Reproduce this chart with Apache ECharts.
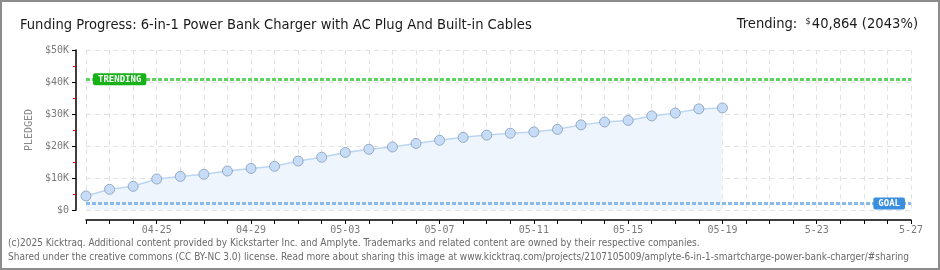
<!DOCTYPE html>
<html>
<head>
<meta charset="utf-8">
<script src="https://cdn.jsdelivr.net/npm/echarts@6/dist/echarts.min.js"></script>
<style>
  html, body { margin: 0; padding: 0; background: #fff; }
  #wrap { position: relative; width: 940px; height: 270px; }
  #chart { position: absolute; left: 0; top: 0; width: 940px; height: 270px; }
  #frame { position: absolute; left: 0; top: 0; width: 940px; height: 270px; box-sizing: border-box; border: 2px solid #8c8c8c; pointer-events: none; }
</style>
</head>
<body>
<div id="wrap">
  <div id="chart"></div>
  <div id="frame"></div>
</div>
<script>
// dates shown on the x axis (one per day)
const days = [
  "04-22", "04-23", "04-24", "04-25", "04-26", "04-27", "04-28", "04-29", "04-30",
  "05-01", "05-02", "05-03", "05-04", "05-05", "05-06", "05-07", "05-08", "05-09",
  "05-10", "05-11", "05-12", "05-13", "05-14", "05-15", "05-16", "05-17", "05-18",
  "05-19", "5-20", "5-21", "5-22", "5-23", "5-24", "5-25", "5-26", "5-27"
];
// pledged total per day ($)
const pledged = [
  4380, 6470, 7400, 9690, 10500, 11160, 12190, 13000, 13660, 15300, 16500, 18000,
  18970, 19700, 20800, 21800, 22700, 23400, 24000, 24400, 25200, 26600, 27500,
  28000, 29400, 30300, 31600, 31900
];
const goal = 2000;
const trending = 40864;
const yTicks = [0, 10000, 20000, 30000, 40000, 50000];

const pixelFont = "DejaVu Sans Mono";
const textFont = "'DejaVu Sans Condensed', 'Liberation Sans', sans-serif";
const chart = echarts.init(document.getElementById("chart"));

chart.setOption({
  animation: false,
  title: [
    {
      text: "Funding Progress: 6-in-1 Power Bank Charger with AC Plug And Built-in Cables",
      left: 15, top: 13,
      textStyle: { fontFamily: textFont, fontSize: 14.6, fontWeight: "normal", color: "#1a1a1a" }
    },
    {
      text: "{a|Trending:  }{s|$}{a|40,864 (2043%)}",
      right: 17, top: 12,
      textStyle: {
        fontWeight: "normal",
        rich: {
          a: { fontFamily: textFont, fontSize: 14.6, fontWeight: "normal", color: "#1a1a1a" },
          s: { fontFamily: textFont, fontSize: 9, fontWeight: "normal", color: "#1a1a1a", verticalAlign: "top", padding: [0, 1, 6, 0] }
        }
      }
    }
  ],
  graphic: [
    {
      type: "text", left: 8, top: 238,
      style: {
        text: "(c)2025 Kicktraq. Additional content provided by Kickstarter Inc. and Amplyte. Trademarks and related content are owned by their respective companies.",
        font: "10px " + textFont, fill: "#6a6a6a"
      }
    },
    {
      type: "text", left: 8, top: 252,
      style: {
        text: "Shared under the creative commons (CC BY-NC 3.0) license. Read more about sharing this image at www.kicktraq.com/projects/2107105009/amplyte-6-in-1-smartcharge-power-bank-charger/#sharing",
        font: "10px " + textFont, fill: "#6a6a6a"
      }
    }
  ],
  grid: { left: 86, right: 29, top: 50, bottom: 60 },
  xAxis: {
    type: "category",
    data: days,
    boundaryGap: false,
    offset: 10,
    axisLine: { onZero: false, lineStyle: { color: "#000", width: 1.5 } },
    axisTick: { interval: 0, length: 4, lineStyle: { color: "#000" } },
    axisLabel: {
      interval: (i) => i % 4 === 3,
      margin: 5,
      fontFamily: pixelFont, fontSize: 10, color: "#7a7a7a"
    },
    splitLine: { show: true, interval: 0, lineStyle: { color: "#e2e2e2", type: [5, 4] } }
  },
  yAxis: {
    type: "value",
    min: yTicks[0], max: yTicks[yTicks.length - 1], interval: 10000,
    offset: 10,
    name: "PLEDGED",
    nameLocation: "middle",
    nameGap: 42,
    nameTextStyle: { fontFamily: pixelFont, fontSize: 10, color: "#888" },
    axisLine: { show: true, onZero: false, lineStyle: { color: "#000", width: 1.5 } },
    axisTick: { show: true, length: 4, lineStyle: { color: "#000" } },
    minorTick: { show: true, splitNumber: 2, length: 3, lineStyle: { color: "#e00000" } },
    axisLabel: {
      margin: 7,
      fontFamily: pixelFont, fontSize: 10, color: "#7a7a7a",
      formatter: (v) => (v === 0 ? "$0" : "$" + v / 1000 + "K")
    },
    splitLine: { show: true, lineStyle: { color: "#e2e2e2", type: [5, 4] } }
  },
  series: [
    {
      type: "line",
      data: pledged,
      symbol: "circle",
      symbolSize: 10,
      itemStyle: { color: "#c7ddf7", borderColor: "#94a9c4", borderWidth: 1 },
      lineStyle: { color: "#bcd6f2", width: 1.5 },
      areaStyle: { color: "#eef5fd", opacity: 1 },
      markLine: {
        silent: true,
        symbol: "none",
        data: [
          {
            yAxis: trending,
            lineStyle: { color: "#5fd25f", width: 3, type: [4, 2] },
            label: {
              show: true, formatter: "TRENDING", position: "insideStart", distance: 7,
              backgroundColor: "#17b217", color: "#fff", borderRadius: 2,
              padding: [2, 5, 1, 5], fontFamily: pixelFont, fontWeight: "bold", fontSize: 9
            }
          },
          {
            yAxis: goal,
            lineStyle: { color: "#8bbaea", width: 3, type: [4, 2] },
            label: {
              show: true, formatter: "GOAL", position: "insideEnd", distance: 6,
              backgroundColor: "#3a8ee0", color: "#fff", borderRadius: 2,
              padding: [2, 5, 1, 5], fontFamily: pixelFont, fontWeight: "bold", fontSize: 9
            }
          }
        ]
      }
    }
  ]
});
</script>
</body>
</html>
